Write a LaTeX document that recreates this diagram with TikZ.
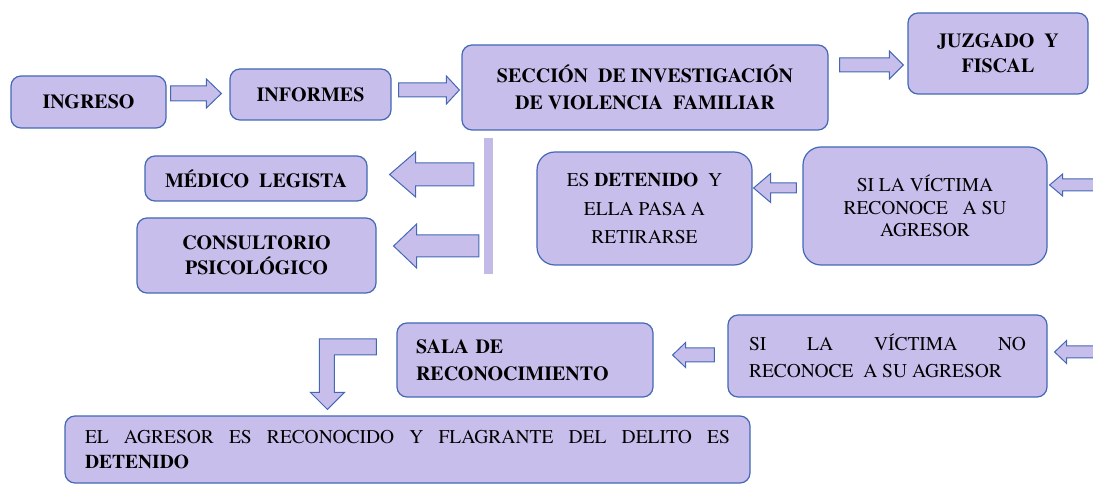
\documentclass[tikz,border=0pt]{standalone}
\usepackage{fontspec}
\setmainfont{texgyretermes}[Extension=.otf, UprightFont=*-regular, BoldFont=*-bold, ItalicFont=*-italic, BoldItalicFont=*-bolditalic]
\usetikzlibrary{calc}

\definecolor{boxfill}{RGB}{199,190,235}
\definecolor{boxline}{RGB}{68,104,180}
\definecolor{barfill}{RGB}{196,186,232}

\begin{document}
\begin{tikzpicture}[
        x=1pt, y=-1pt,
        box/.style={draw=boxline, fill=boxfill, line width=1.2pt, rounded corners=10pt, inner sep=0pt, align=center, font=\fontsize{20}{25}\selectfont\bfseries},
        rarrow/.style n args={3}{draw=boxline, fill=boxfill, line width=1pt, to path={let \p1=(\tikztostart), \p2=(\tikztotarget) in (\x1,\y1+#1pt) -- (\x2-#3pt,\y1+#1pt) -- (\x2-#3pt,\y1+#2pt) -- (\x2,\y1) -- (\x2-#3pt,\y1-#2pt) -- (\x2-#3pt,\y1-#1pt) -- (\x1,\y1-#1pt) -- cycle}},
        larrow/.style n args={3}{draw=boxline, fill=boxfill, line width=1pt, to path={let \p1=(\tikztostart), \p2=(\tikztotarget) in (\x1,\y1+#1pt) -- (\x2+#3pt,\y1+#1pt) -- (\x2+#3pt,\y1+#2pt) -- (\x2,\y1) -- (\x2+#3pt,\y1-#2pt) -- (\x2+#3pt,\y1-#1pt) -- (\x1,\y1-#1pt) -- cycle}},
        bentarrow/.style={draw=boxline, fill=boxfill, line width=1pt, to path={let \p1=(\tikztostart), \p2=(\tikztotarget) in (\x1,\y1+8pt) -- (\x2-8pt,\y1+8pt) -- (\x2-8pt,\y2+17pt) -- (\x2-17pt,\y2+17pt) -- (\x2,\y2) -- (\x2+17pt,\y2+17pt) -- (\x2+7pt,\y2+17pt) -- (\x2+7pt,\y1-8pt) -- (\x1,\y1-8pt) -- cycle}}
    ]

    \path[use as bounding box] (0,0) rectangle (1093,486);
    \clip (0,0) rectangle (1093,486);

    \node[box, minimum width=155pt, minimum height=52pt] (ING) at (88.5,102) {INGRESO};
    \node[box, minimum width=161pt, minimum height=51pt] (INF) at (310.5,94.5) {INFORMES};
    \node[box, minimum width=366pt, minimum height=85pt, font=\fontsize{20}{27}\selectfont\bfseries] (SEC) at (645,87.5) {SECCIÓN\ \ DE INVESTIGACIÓN\\DE VIOLENCIA\ \ FAMILIAR};
    \node[box, minimum width=180pt, minimum height=81pt] (JUZ) at (998,53.5) {JUZGADO\ \ Y\\FISCAL};

    \node[fill=barfill, minimum width=9pt, minimum height=136pt, inner sep=0pt] (BAR) at (488.5,206) {};

    \node[box, minimum width=222pt, minimum height=45pt] (MED) at (256,178.5) {MÉDICO\ \ LEGISTA};
    \node[box, minimum width=239pt, minimum height=75pt] (PSI) at (256.5,255.5) {CONSULTORIO\\PSICOLÓGICO};
    \node[box, rounded corners=18pt, minimum width=215pt, minimum height=113pt, font=\fontsize{19.5}{28.5}\selectfont] (DET) at (644.5,208.5) {ES \textbf{DETENIDO}\ \ Y\\ELLA PASA A\\RETIRARSE};
    \node[box, rounded corners=18pt, minimum width=244pt, minimum height=118pt, font=\fontsize{19.5}{22.5}\selectfont] (SIR) at (925,206) {SI LA VÍCTIMA\\RECONOCE\ \ \ A SU\\AGRESOR};

    \node[box, minimum width=319pt, minimum height=82pt, text width=277pt, inner xsep=21pt, align=justify, font=\fontsize{19.5}{27}\selectfont] (NOR) at (887.5,356) {\noindent SI LA VÍCTIMA NO\linebreak RECONOCE\ \ A SU AGRESOR};
    \node[box, minimum height=74pt, text width=218pt, inner xsep=19pt, align=left, font=\fontsize{20}{27}\selectfont\bfseries] (SAL) at (525,360) {SALA DE\\RECONOCIMIENTO};
    \node[box, minimum height=67pt, text width=645pt, inner xsep=20pt, align=justify, font=\fontsize{19.5}{25}\selectfont] (AGR) at (407.5,449.5) {\noindent EL AGRESOR ES RECONOCIDO Y FLAGRANTE DEL DELITO ES\linebreak \textbf{DETENIDO}};

    \coordinate (E1) at (1110,185);
    \coordinate (E2) at (1110,352);

    \draw[rarrow={7.5}{14.5}{15}] ($(ING.east)+(4,-8.5)$) to ($(INF.west)+(-8,0)$);
    \draw[rarrow={7}{14}{13}] ($(INF.east)+(7,-4.5)$) to ($(SEC.west)+(-2,0)$);
    \draw[rarrow={7}{14}{14}] ($(SEC.east)+(11,-22.5)$) to ($(JUZ.west)+(-4,0)$);
    \draw[larrow={11.5}{22.5}{26}] ($(MED.east -| BAR.west)+(-10,-4)$) to ($(MED.east)+(22,0)$);
    \draw[larrow={11}{22}{23}] ($(PSI.east -| BAR.west)+(-5,-9.5)$) to ($(PSI.east)+(17,0)$);
    \draw[larrow={5}{14.5}{17}] ($(SIR.west)+(-6,-18)$) to ($(DET.east)+(1,0)$);
    \draw[larrow={6}{11}{13}] (E1) to ($(SIR.east)+(2,0)$);
    \draw[larrow={7}{12.5}{13}] ($(NOR.west)+(-13,-1)$) to ($(SAL.east)+(19,0)$);
    \draw[larrow={6}{11.5}{12}] (E2) to ($(NOR.east)+(7,0)$);
    \draw[bentarrow] ($(SAL.west)+(-20,-13)$) to ($(AGR.north west)+(263,-6)$);
\end{tikzpicture}
\end{document}
